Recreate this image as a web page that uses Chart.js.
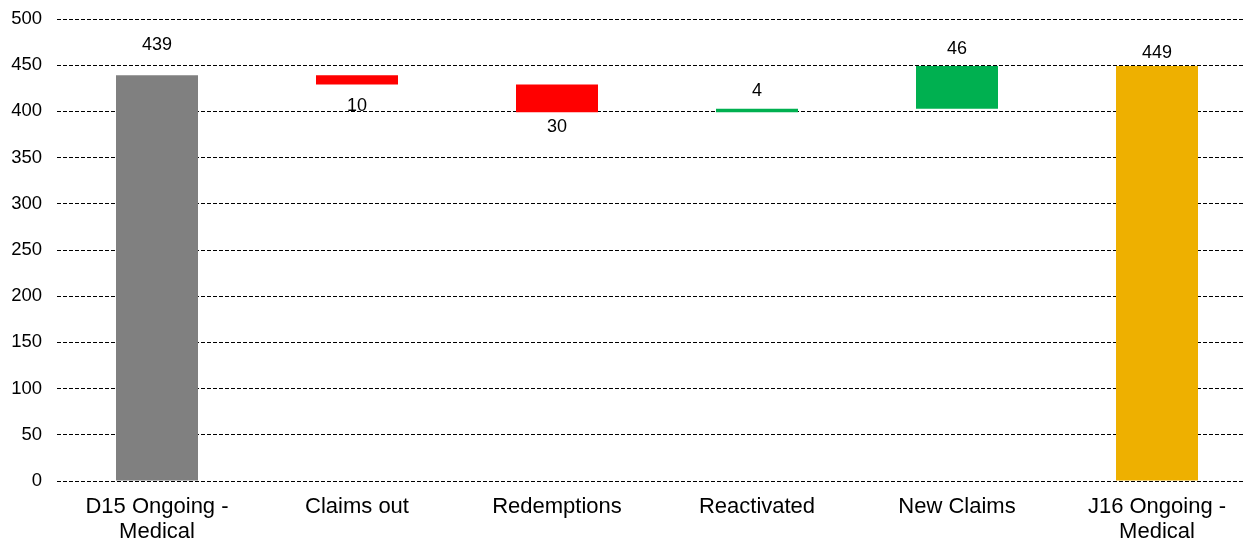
<!DOCTYPE html>
<html>
<head>
<meta charset="utf-8">
<title>Claims waterfall</title>
<script src="https://cdn.jsdelivr.net/npm/chart.js@4/dist/chart.umd.min.js"></script>
<style>
  html, body { margin: 0; padding: 0; background: #fff; overflow: hidden; }
  #wrap { width: 1257px; height: 542px; }
</style>
</head>
<body>
<div id="wrap"><canvas id="waterfallChart" width="1257" height="542"></canvas></div>
<script>
'use strict';

var categories = [['D15 Ongoing -', 'Medical'], 'Claims out', 'Redemptions', 'Reactivated', 'New Claims', ['J16 Ongoing -', 'Medical']];
var changes = [439, -10, -30, 4, 46, 449];
var isTotal = [true, false, false, false, false, true];
var yTicks = [0, 50, 100, 150, 200, 250, 300, 350, 400, 450, 500];

// label distance from the bar edge, px
var labelOffsets = [30, 21, 15, 18, 17, 13];

(function initWaterfall() {
  var ranges = [];
  var colors = [];
  var running = 0;
  changes.forEach(function (v, i) {
    if (isTotal[i]) {
      ranges.push([0, v]);
      running = v;
      colors.push(i === 0 ? '#808080' : '#EEB000');
    } else {
      ranges.push([running, running + v]);
      running += v;
      colors.push(v < 0 ? '#FF0000' : '#00B050');
    }
  });

  var valueLabels = {
    id: 'valueLabels',
    afterDatasetsDraw: function (chart) {
      var ctx = chart.ctx;
      var meta = chart.getDatasetMeta(0);
      ctx.save();
      ctx.font = '18px "Liberation Sans", Arial, sans-serif';
      ctx.fillStyle = '#000';
      ctx.textAlign = 'center';
      ctx.textBaseline = 'middle';
      meta.data.forEach(function (bar, i) {
        var v = changes[i];
        var top = Math.min(bar.y, bar.base);
        var bottom = Math.max(bar.y, bar.base);
        var y = v < 0 ? bottom + labelOffsets[i] : top - labelOffsets[i];
        ctx.fillText(String(Math.abs(v)), bar.x, y);
      });
      ctx.restore();
    }
  };

  new Chart(document.getElementById('waterfallChart').getContext('2d'), {
    type: 'bar',
    data: {
      labels: categories,
      datasets: [{
        data: ranges,
        backgroundColor: colors,
        borderWidth: 0,
        borderSkipped: false,
        barPercentage: 0.41,
        categoryPercentage: 1
      }]
    },
    options: {
      animation: false,
      responsive: false,
      layout: { padding: { top: 19, right: 0, left: 0, bottom: 0 } },
      plugins: { legend: { display: false }, tooltip: { enabled: false } },
      scales: {
        x: {
          grid: { display: false, drawTicks: false },
          border: { display: false },
          ticks: {
            color: '#000',
            padding: 13,
            font: { family: '"Liberation Sans", Arial, sans-serif', size: 22, lineHeight: 1.145 },
            maxRotation: 0,
            autoSkip: false
          },
          afterFit: function (scale) { scale.height = 61; }
        },
        y: {
          min: 0,
          max: 500,
          afterBuildTicks: function (scale) {
            scale.ticks = yTicks.map(function (v) { return { value: v }; });
          },
          grid: { color: '#000', lineWidth: 1, drawTicks: false },
          border: { display: false, dash: [4, 2] },
          ticks: {
            color: '#000',
            padding: 15,
            font: { family: '"Liberation Sans", Arial, sans-serif', size: 18.5 }
          },
          afterFit: function (scale) {
            scale.width = 57;
            scale.paddingTop = 0;
            scale.paddingBottom = 0;
          }
        }
      }
    },
    plugins: [valueLabels]
  });
})();
</script>
</body>
</html>
